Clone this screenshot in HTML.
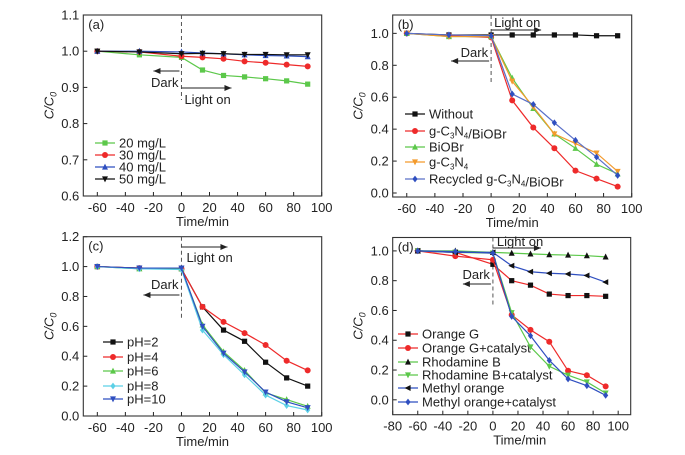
<!DOCTYPE html>
<html><head><meta charset="utf-8"><style>
body{margin:0;background:#fff}
svg{display:block;font-family:"Liberation Sans",Arial,sans-serif}
</style></head><body>
<svg id="chart" width="685" height="455" viewBox="0 0 685 455" xmlns="http://www.w3.org/2000/svg"></svg>
<script>
const times = [-60,-30,0,15,30,45,60,75,90];
// Panel a
const aLabels = ["20 mg/L","30 mg/L","40 mg/L","50 mg/L"];
const a20 = [1.0,0.99,0.983,0.948,0.933,0.929,0.924,0.918,0.909];
const a30 = [1.0,0.998,0.986,0.983,0.979,0.972,0.968,0.963,0.958];
const a40 = [1.0,1.0,0.998,0.995,0.993,0.99,0.988,0.987,0.985];
const a50 = [1.0,0.998,0.993,0.994,0.993,0.991,0.991,0.99,0.99];
// Panel b
const bLabels = ["Without","g-C3N4/BiOBr","BiOBr","g-C3N4","Recycled g-C3N4/BiOBr"];
const bWithout = [1.0,0.99,0.99,0.99,0.99,0.99,0.99,0.985,0.985];
const bComposite = [1.0,0.985,0.975,0.58,0.41,0.28,0.14,0.09,0.04];
const bBiOBr = [1.0,0.98,0.98,0.72,0.53,0.37,0.28,0.18,0.12];
const bCN = [1.0,0.98,0.98,0.70,0.54,0.37,0.31,0.25,0.135];
const bRecycled = [1.0,0.99,0.985,0.62,0.555,0.44,0.33,0.225,0.11];
// Panel c
const cLabels = ["pH=2","pH=4","pH=6","pH=8","pH=10"];
const cPH2 = [1.0,0.99,0.985,0.73,0.575,0.5,0.36,0.255,0.2];
const cPH4 = [1.0,0.99,0.985,0.73,0.63,0.555,0.475,0.37,0.305];
const cPH6 = [1.0,0.985,0.985,0.61,0.43,0.305,0.155,0.11,0.065];
const cPH8 = [1.0,0.985,0.98,0.575,0.41,0.275,0.14,0.07,0.04];
const cPH10 = [1.0,0.99,0.99,0.60,0.42,0.295,0.16,0.095,0.055];
// Panel d
const dLabels = ["Orange G","Orange G+catalyst","Rhodamine B","Rhodamine B+catalyst","Methyl orange","Methyl orange+catalyst"];
const dOG = [1.0,0.99,0.91,0.80,0.77,0.71,0.70,0.70,0.695];
const dOGc = [1.0,0.965,0.94,0.57,0.47,0.39,0.195,0.165,0.09];
const dRhB = [1.0,1.0,0.99,0.985,0.98,0.975,0.972,0.968,0.96];
const dRhBc = [1.0,0.99,0.985,0.585,0.355,0.225,0.165,0.12,0.045];
const dMO = [1.0,0.99,0.99,0.90,0.86,0.85,0.845,0.835,0.79];
const dMOc = [1.0,0.995,0.985,0.56,0.43,0.265,0.14,0.095,0.03];
const aYTicks = [0.6,0.7,0.8,0.9,1.0,1.1];
const bYTicks = [0.0,0.2,0.4,0.6,0.8,1.0];
const cYTicks = [0.0,0.2,0.4,0.6,0.8,1.0,1.2];
const dYTicks = [0.0,0.2,0.4,0.6,0.8,1.0];
const xTicksA = [-60,-40,-20,0,20,40,60,80,100];
const xTicksD = [-80,-60,-40,-20,0,20,40,60,80,100];

const svg = document.getElementById('chart');
const NS = 'http://www.w3.org/2000/svg';
function mk(tag, attrs, parent, text){
  const e = document.createElementNS(NS, tag);
  for (const k in attrs) e.setAttribute(k, attrs[k]);
  if (text !== undefined) e.textContent = text;
  (parent||svg).appendChild(e);
  return e;
}
const C = {green:'#5cc84a', red:'#ee2a2a', blue:'#2f4fc0', black:'#111', orange:'#f39a2c', cyan:'#5cd0e6', lblue:'#7a96d8'};

function marker(g, type, x, y, col){
  const s = 2.6;
  let m;
  if (type==='sq') m = mk('rect',{x:x-s,y:y-s,width:2*s,height:2*s,fill:col},g);
  else if (type==='ci') m = mk('circle',{cx:x,cy:y,r:s+0.4,fill:col},g);
  else if (type==='tu') m = mk('polygon',{points:`${x},${y-s-0.8} ${x-s-0.4},${y+s} ${x+s+0.4},${y+s}`,fill:col},g);
  else if (type==='td') m = mk('polygon',{points:`${x},${y+s+0.8} ${x-s-0.4},${y-s} ${x+s+0.4},${y-s}`,fill:col},g);
  else if (type==='di') m = mk('polygon',{points:`${x},${y-s-0.8} ${x+s},${y} ${x},${y+s+0.8} ${x-s},${y}`,fill:col},g);
  else if (type==='tl') m = mk('polygon',{points:`${x-s-0.8},${y} ${x+s},${y-s-0.4} ${x+s},${y+s+0.4}`,fill:col},g);
  
  
}

function panel(o){
  const g = mk('g',{}, svg);
  
  
  const X = v => o.x0 + (v - o.xmin)/(o.xmax-o.xmin)*(o.x1-o.x0);
  const Y = v => o.y1 - (v - o.ymin)/(o.ymax-o.ymin)*(o.y1-o.y0);
  // ticks
  o.xticks.forEach(t=>{
    const x = X(t);
    mk('line',{x1:x,x2:x,y1:o.y1,y2:o.y1-4,stroke:'#222','stroke-width':1},g);
    const tl = mk('text',{x:x,y:o.y1+16,'text-anchor':'middle','font-size':13,fill:'#222'},g,String(t));
    
    
  });
  o.yticks.forEach(t=>{
    const y = Y(t);
    mk('line',{x1:o.x0,x2:o.x0+4,y1:y,y2:y,stroke:'#222','stroke-width':1},g);
    const tl = mk('text',{x:o.x0-4,y:y+4.5,'text-anchor':'end','font-size':13,fill:'#222'},g,t.toFixed(1));
    
    
  });
  const frame = mk('rect',{x:o.x0,y:o.y0,width:o.x1-o.x0,height:o.y1-o.y0,fill:'none',stroke:'#333','stroke-width':1.1},g);
  
  
  const xt = mk('text',{x:(X(-70)+X(100))/2+ (o.xmin<-75?8:0),y:o.y1+30,'text-anchor':'middle','font-size':13,fill:'#222'},g,'Time/min');
  
  
  const yt = mk('text',{transform:`translate(${o.x0-30},${(o.y0+o.y1)/2}) rotate(-90)`,'text-anchor':'middle','font-size':13,'font-style':'italic',fill:'#222'},g);
  yt.innerHTML = 'C/C<tspan font-size="9" dy="3">0</tspan>';
  
  
  const pl = mk('text',{x:o.x0+5,y:o.y0+14,'font-size':13,fill:'#222'},g,o.label);
  
  
  // dashed line
  const dl = mk('line',{x1:X(0),x2:X(0),y1:o.y0,y2:o.dashEnd,stroke:'#555','stroke-width':1,'stroke-dasharray':'4,3'},g);
  
  
  // arrows
  function arrow(x1,x2,y,name){
    const a = mk('g',{},g);
    
    
    mk('line',{x1:x1,x2:x2,y1:y,y2:y,stroke:'#222','stroke-width':1},a);
    const d = x2>x1?1:-1;
    mk('polygon',{points:`${x2},${y} ${x2-d*7},${y-3} ${x2-d*7},${y+3}`,fill:'#222'},a);
  }
  arrow(X(0), X(0)+o.lightLen, o.lightArrowY, 'light-on-arrow');
  const lt = mk('text',{x:X(0)+o.lightTextDx,y:o.lightTextY,'font-size':13,fill:'#222'},g,'Light on');
  
  
  arrow(X(0)-2, X(0)-o.darkLen, o.darkArrowY, 'dark-arrow');
  const dt = mk('text',{x:X(0)-3,y:o.darkTextY,'text-anchor':'end','font-size':13,fill:'#222'},g,'Dark');
  
  
  // series
  o.series.forEach((s,i)=>{
    const sg = mk('g',{},g);
    
    
    mk('polyline',{points:times.map((t,j)=>X(t)+','+Y(s.data[j])).join(' '),fill:'none',stroke:s.line||s.col,'stroke-width':1.2},sg);
    times.forEach((t,j)=>marker(sg,s.m,X(t),Y(s.data[j]),s.col));
    // legend
    const ly = o.legY[i];
    const lg = mk('g',{},g);
    
    
    mk('line',{x1:o.legX,x2:o.legX+20,y1:ly,y2:ly,stroke:s.line||s.col,'stroke-width':1.2},lg);
    marker(lg,s.m,o.legX+10,ly,s.col);
    const tx = mk('text',{x:o.legX+24,y:ly+4.5,'font-size':13,fill:'#222'},lg);
    tx.innerHTML = s.label.replace(/C3N4/g,'C<tspan font-size="8" dy="3">3</tspan><tspan dy="-3">N</tspan><tspan font-size="8" dy="3">4</tspan><tspan dy="-3"></tspan>');
  });
}

panel({name:'panel-a',label:'(a)',x0:83.3,x1:321.7,y0:15,y1:196,xmin:-70,xmax:100,ymin:0.6,ymax:1.1,
  xticks:xTicksA,yticks:aYTicks,dashEnd:100,
  lightLen:50,lightArrowY:88,lightTextDx:3,lightTextY:104,darkLen:28,darkArrowY:71,darkTextY:87,
  legX:95,legY:[143,155,167,179],
  series:[{label:aLabels[0],data:a20,col:C.green,m:'sq'},{label:aLabels[1],data:a30,col:C.red,m:'ci'},
          {label:aLabels[2],data:a40,col:C.blue,m:'tu'},{label:aLabels[3],data:a50,col:C.black,m:'td'}]});

panel({name:'panel-b',label:'(b)',x0:392.7,x1:631.7,y0:15,y1:197,xmin:-70,xmax:100,ymin:-0.025,ymax:1.115,
  xticks:xTicksA,yticks:bYTicks,dashEnd:84,
  lightLen:50,lightArrowY:30,lightTextDx:3,lightTextY:27,darkLen:40,darkArrowY:61,darkTextY:57,
  legX:405,legY:[114,131,147,162,179],
  series:[{label:bLabels[0],data:bWithout,col:C.black,m:'sq'},{label:bLabels[1],data:bComposite,col:C.red,m:'ci'},
          {label:bLabels[2],data:bBiOBr,col:C.green,m:'tu'},{label:bLabels[3],data:bCN,col:C.orange,m:'td'},
          {label:bLabels[4],data:bRecycled,col:C.blue,line:'#5a70c8',m:'di'}]});

panel({name:'panel-c',label:'(c)',x0:83.3,x1:321.7,y0:236.7,y1:416,xmin:-70,xmax:100,ymin:0,ymax:1.2,
  xticks:xTicksA,yticks:cYTicks,dashEnd:318,
  lightLen:46,lightArrowY:247,lightTextDx:5,lightTextY:262,darkLen:38,darkArrowY:295,darkTextY:289,
  legX:103,legY:[342,357,371,386,399],
  series:[{label:cLabels[0],data:cPH2,col:C.black,m:'sq'},{label:cLabels[1],data:cPH4,col:C.red,m:'ci'},
          {label:cLabels[2],data:cPH6,col:C.green,m:'tu'},{label:cLabels[3],data:cPH8,col:C.cyan,m:'di'},
          {label:cLabels[4],data:cPH10,col:C.blue,m:'td'}]});

panel({name:'panel-d',label:'(d)',x0:392.7,x1:630.7,y0:237.5,y1:414.7,xmin:-80,xmax:110,ymin:-0.1,ymax:1.09,
  xticks:xTicksD,yticks:dYTicks,dashEnd:305,
  lightLen:48,lightArrowY:248,lightTextDx:4,lightTextY:246,darkLen:30,darkArrowY:284,darkTextY:279,
  legX:398,legY:[334,348,362,375,388,402],
  series:[{label:dLabels[0],data:dOG,col:C.black,line:C.red,m:'sq'},{label:dLabels[1],data:dOGc,col:C.red,m:'ci'},
          {label:dLabels[2],data:dRhB,col:C.black,line:C.green,m:'tu'},{label:dLabels[3],data:dRhBc,col:C.green,m:'td'},
          {label:dLabels[4],data:dMO,col:C.black,line:C.blue,m:'tl'},{label:dLabels[5],data:dMOc,col:C.blue,m:'di'}]});
</script>
</body></html>
